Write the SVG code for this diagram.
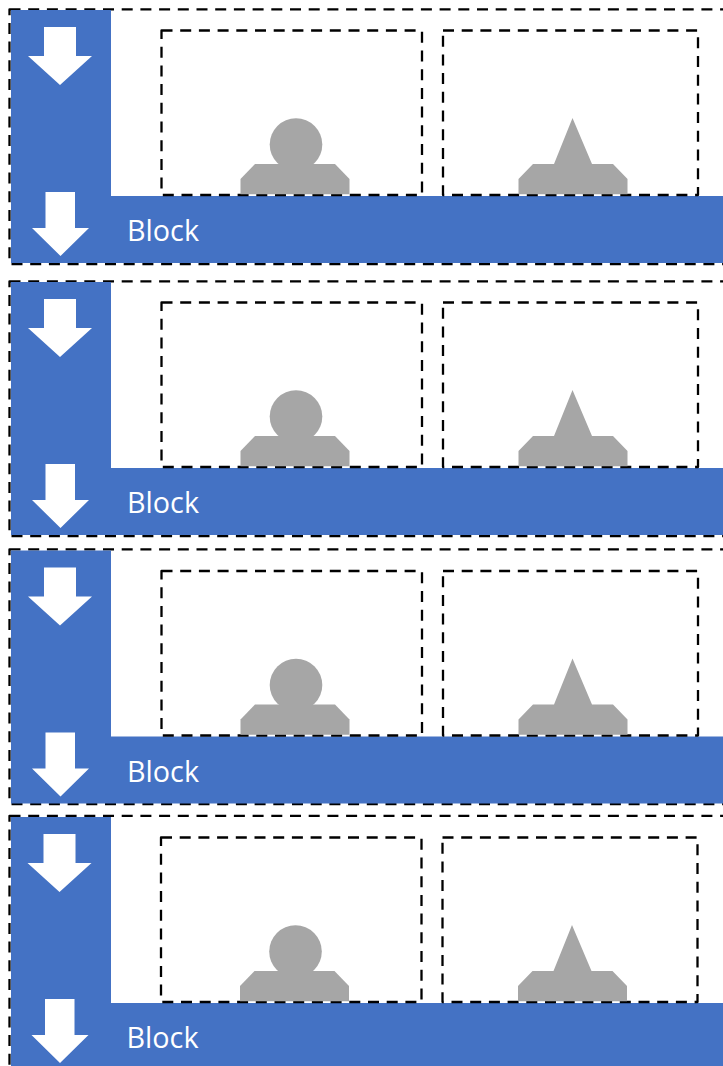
<svg xmlns="http://www.w3.org/2000/svg" width="723" height="1066" viewBox="0 0 723 1066">
<style>
.d{fill:none;stroke:#000;stroke-width:2.300;stroke-dasharray:11 7.700;stroke-linejoin:round}
.b{fill:#4472c4}
.g{fill:#a6a6a6}
.w{fill:#fff}
.t{fill:#fff;font-family:"Open Sans","Noto Sans",sans-serif;font-size:30px}
</style>
<defs>
<rect id="outer" class="d" x="9.500" y="9.300" width="730" height="254.700"/>
<path id="band" class="b" d="M11 10H111V196H730V263H11Z"/>
<g id="unit">
<rect class="d" x="161.500" y="30.500" width="260.500" height="164.500"/>
<rect class="d" x="443" y="30.500" width="255" height="164.500"/>
<circle class="g" cx="296" cy="144.500" r="26.300"/>
<path class="g" d="M240.500 194.200V179L255 164H335L349.500 179V194.200Z"/>
<path class="g" d="M518.500 194.200V179L533 164H554L572.500 118L592 164H613L627.500 179V194.200Z"/>
<path class="w" d="M44 27H76V56H92L60 85L28 56H44Z"/>
<path class="w" d="M45.500 192H75V228H89L60.500 256L32 228H45.500Z"/>
<text class="t" x="127" y="241" textLength="72" lengthAdjust="spacingAndGlyphs">Block</text>
</g>
</defs>
<g id="block-1"><use href="#outer"/><use href="#band"/><use href="#unit"/></g>
<g id="block-2"><use href="#outer" y="272"/><use href="#band" y="272"/><use href="#unit" y="272"/></g>
<g id="block-3"><use href="#outer" y="540"/><use href="#band" y="540.500"/><use href="#unit" y="540.500"/></g>
<g id="block-4"><use href="#outer" y="806.500"/><use href="#band" y="807"/><use href="#unit" x="-0.500" y="807"/></g>
</svg>
